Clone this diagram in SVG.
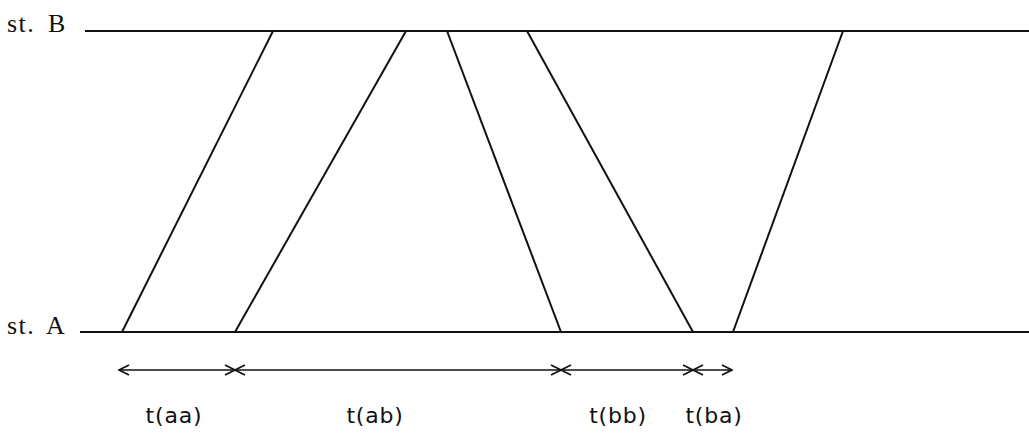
<svg xmlns="http://www.w3.org/2000/svg" width="1029" height="440" viewBox="0 0 1029 440">
<defs>
<style>
.ln{stroke:#111;stroke-width:2;fill:none}
.ar{stroke:#111;stroke-width:1.6;fill:none}
.lbl{font-family:"Liberation Serif",serif;font-size:26px;fill:#111;letter-spacing:1.5px}
.tl{font-family:"DejaVu Sans",sans-serif;font-size:22px;fill:#111;letter-spacing:0.8px}
</style>
<marker id="ah" viewBox="0 0 12 12" refX="11" refY="6" markerWidth="12" markerHeight="12" markerUnits="userSpaceOnUse" orient="auto-start-reverse">
<path d="M1,1 L11,6 L1,11" stroke="#111" stroke-width="1.6" fill="none"/>
</marker>
</defs>
<rect width="1029" height="440" fill="#fff"/>
<g id="stB">
<text class="lbl" x="7" y="32">st.<tspan x="48">B</tspan></text>
<line class="ln" x1="85" y1="31" x2="1029" y2="31"/>
</g>
<g id="stA">
<text class="lbl" x="7" y="334">st.<tspan x="46">A</tspan></text>
<line class="ln" x1="80" y1="332" x2="1029" y2="332"/>
</g>
<g id="connectors">
<line class="ln" x1="122" y1="332" x2="273" y2="31"/>
<line class="ln" x1="235" y1="332" x2="406" y2="31"/>
<line class="ln" x1="447" y1="31" x2="561" y2="332"/>
<line class="ln" x1="527" y1="31" x2="693" y2="332"/>
<line class="ln" x1="733" y1="332" x2="843" y2="31"/>
<line class="ar" x1="119" y1="370" x2="235" y2="370" marker-start="url(#ah)" marker-end="url(#ah)"/>
<line class="ar" x1="235" y1="370" x2="561" y2="370" marker-start="url(#ah)" marker-end="url(#ah)"/>
<line class="ar" x1="561" y1="370" x2="693" y2="370" marker-start="url(#ah)" marker-end="url(#ah)"/>
<line class="ar" x1="693" y1="370" x2="732" y2="370" marker-start="url(#ah)" marker-end="url(#ah)"/>
</g>
<g id="labels">
<text class="tl" x="174" y="423" text-anchor="middle">t(aa)</text>
<text class="tl" x="375" y="423" text-anchor="middle">t(ab)</text>
<text class="tl" x="618" y="423" text-anchor="middle">t(bb)</text>
<text class="tl" x="714" y="423" text-anchor="middle">t(ba)</text>
</g>
</svg>
